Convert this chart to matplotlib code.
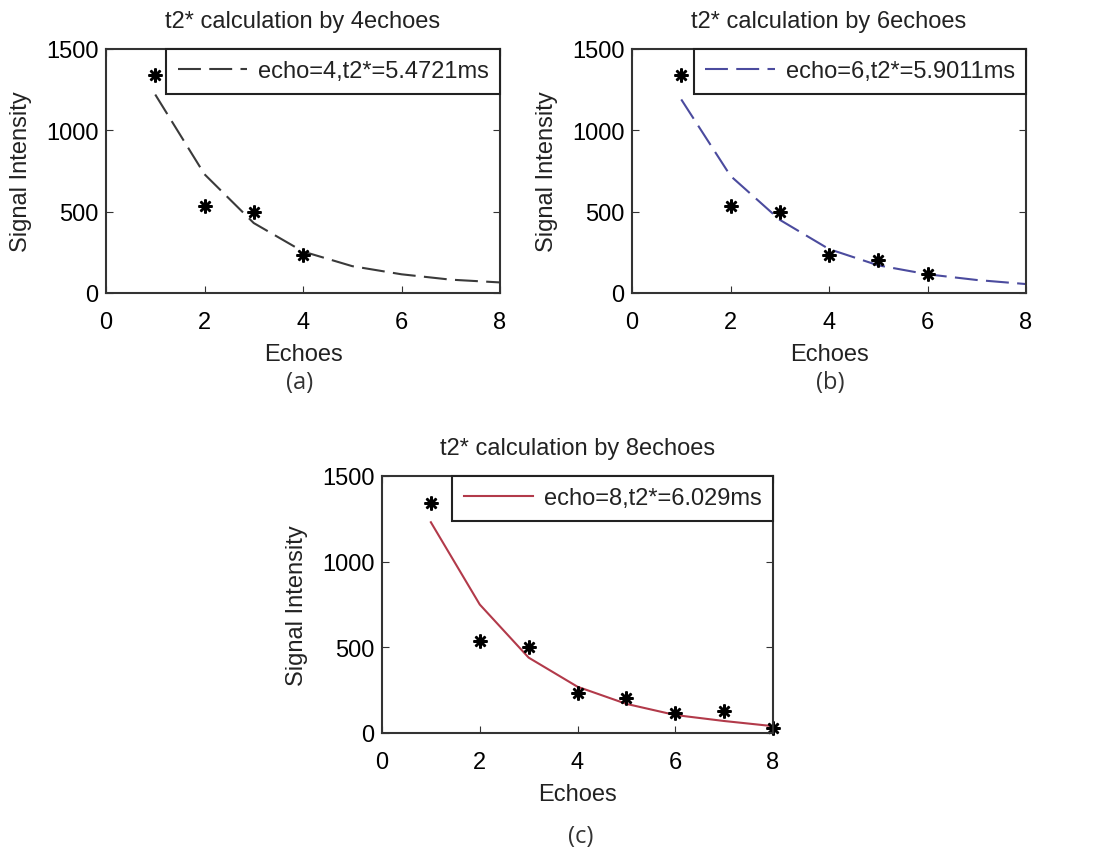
import matplotlib.pyplot as plt

plt.rcParams['font.family'] = ['Liberation Sans', 'DejaVu Sans']

echoes = [1, 2, 3, 4, 5, 6, 7, 8]
signal = [1340, 535, 500, 235, 205, 115, 130, 30]

fit_x = [1, 2, 3, 4, 5, 6, 7, 8]
fit_4 = [1220, 730, 430, 255, 165, 115, 82, 65]
fit_6 = [1190, 720, 450, 270, 170, 115, 80, 55]
fit_8 = [1230, 750, 440, 270, 170, 105, 70, 40]

n_used = [4, 6, 8]
t2_vals = ['5.4721', '5.9011', '6.029']
fits = [fit_4, fit_6, fit_8]
colors = ['#3a3a3a', '#4b4b9e', '#b23a4a']
styles = [(0, (11, 4)), (0, (11, 4)), '-']
panel_tags = ['(a)', '(b)', '(c)']

W, H = 1109, 854
fig = plt.figure(figsize=(W / 100, H / 100), dpi=100)

# axes boxes in pixels: left, right, top, bottom
boxes = [(106, 500, 50, 294), (632, 1026, 50, 294), (382, 773, 477, 734)]
tag_pos = [(300, 383), (830, 383), (581, 837)]

for i, (l, r, t, b) in enumerate(boxes):
    ax = fig.add_axes([l / W, 1 - b / H, (r - l) / W, (b - t) / H])
    n = n_used[i]
    ax.plot(fit_x, fits[i], color=colors[i], linestyle=styles[i], lw=1.5,
            label='echo=%d,t2*=%sms' % (n, t2_vals[i]))
    ax.plot(echoes[:n], signal[:n], linestyle='none', marker=(8, 2, 0),
            color='black', markersize=10, markeredgewidth=1.8, clip_on=False)
    ax.set_xlim(0, 8)
    ax.set_ylim(0, 1500)
    ax.set_xticks([0, 2, 4, 6, 8])
    ax.set_yticks([0, 500, 1000, 1500])
    ax.tick_params(direction='in', top=True, right=True, labelsize=17,
                   length=5, color='#333333')
    ax.tick_params(axis='x', pad=13)
    ax.tick_params(axis='y', pad=5.5)
    for s in ax.spines.values():
        s.set_linewidth(1.5)
        s.set_color('#333333')
    ax.set_title("t2* calculation by %dechoes" % n, fontsize=17, pad=16,
                 color='#222222')
    ax.set_xlabel('Echoes', fontsize=17, labelpad=7, color='#222222')
    ax.set_ylabel('Signal Intensity', fontsize=17, labelpad=10, color='#222222')
    leg = ax.legend(loc='upper right', borderaxespad=0, fancybox=False,
                    edgecolor='#222222', framealpha=1, fontsize=17,
                    handlelength=2.95, handletextpad=0.45, borderpad=0.48)
    leg.get_frame().set_linewidth(1.5)
    for txt in leg.get_texts():
        txt.set_color('#222222')
    fig.text(tag_pos[i][0] / W, 1 - tag_pos[i][1] / H, panel_tags[i],
             ha='center', va='center', fontsize=17,
             family=['Open Sans', 'DejaVu Sans'], color='#333333')

fig.savefig('out.png', dpi=100)
